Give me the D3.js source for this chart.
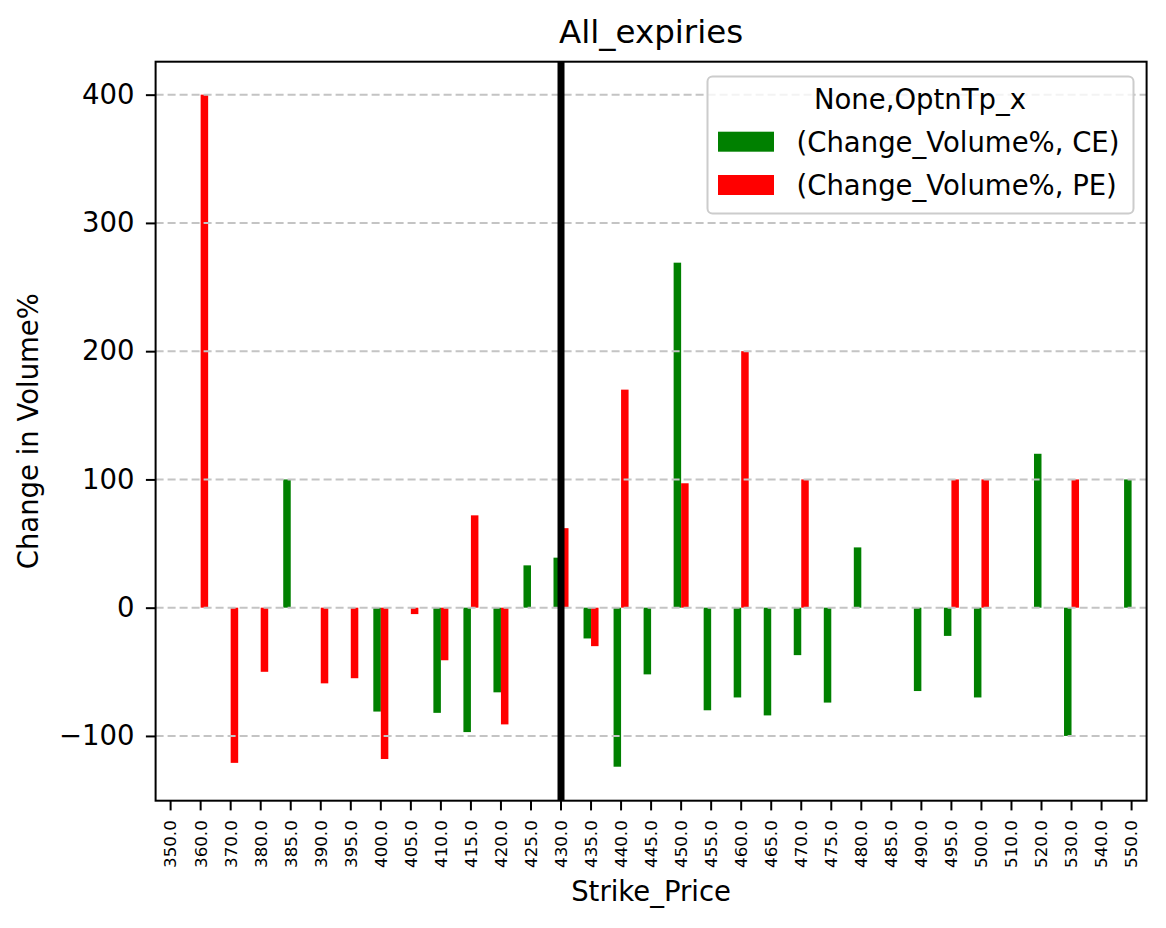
<!DOCTYPE html>
<html>
<head>
<meta charset="utf-8">
<script src="https://cdn.jsdelivr.net/npm/d3@7"></script>
<style>
  body { margin: 0; background: #fff; }
  svg { display: block; font-family: "DejaVu Sans", sans-serif; }
</style>
</head>
<body>
<script>
// strikes on the x axis
const strikes = ["350.0", "360.0", "370.0", "380.0", "385.0", "390.0", "395.0", "400.0", "405.0",
  "410.0", "415.0", "420.0", "425.0", "430.0", "435.0", "440.0", "445.0", "450.0", "455.0",
  "460.0", "465.0", "470.0", "475.0", "480.0", "485.0", "490.0", "495.0", "500.0", "510.0",
  "520.0", "530.0", "540.0", "550.0"];

// Change_Volume% per option type (null = no bar)
const ceValues = [null, null, null, null, 100, null, null, -81, null, -82, -97, -66, 33, 39, -24,
  -124, -52, 269, -80, -70, -84, -37, -74, 47, null, -65, -22, -70, null, 120, -100, null, 100];
const peValues = [null, 400, -121, -50, null, -59, -55, -118, -5, -41, 72, -91, null, 62, -30,
  170, null, 97, null, 200, null, 100, null, null, null, null, 100, 100, null, null, 100, null, null];

const seriesNames = ["CE", "PE"];
const seriesLabels = ["(Change_Volume%, CE)", "(Change_Volume%, PE)"];
const seriesColors = ["#008000", "#ff0000"];
const yTicks = [-100, 0, 100, 200, 300, 400];
const markStrike = "430.0";

const width = 1166, height = 928;
const plotLeft = 155.6, plotRight = 1146.6, plotTop = 61.7, plotBottom = 800.7;

const svg = d3.select("body").append("svg")
    .attr("width", width)
    .attr("height", height);

const x = d3.scaleBand().domain(strikes).range([plotLeft, plotRight]).padding(0);
const bw = x.bandwidth();
const xs = d3.scaleBand().domain(seriesNames).range([-bw / 4, bw / 4]).padding(0);
const y = d3.scaleLinear().domain([-150.5, 425.7]).range([plotBottom, plotTop]);

const rows = strikes.map((s, i) => ({ strike: s, CE: ceValues[i], PE: peValues[i] }));

// bars
seriesNames.forEach((name, k) => {
  svg.append("g")
      .attr("fill", seriesColors[k])
    .selectAll("rect")
    .data(rows.filter(d => d[name] != null))
    .join("rect")
      .attr("x", d => x(d.strike) + bw / 2 + xs(name))
      .attr("width", xs.bandwidth())
      .attr("y", d => y(Math.max(0, d[name])))
      .attr("height", d => Math.abs(y(d[name]) - y(0)));
});

// dashed horizontal grid
svg.append("g")
  .selectAll("line")
  .data(yTicks)
  .join("line")
    .attr("x1", plotLeft).attr("x2", plotRight)
    .attr("y1", d => y(d)).attr("y2", d => y(d))
    .attr("stroke", "#c4c4c4")
    .attr("stroke-width", 2)
    .attr("stroke-dasharray", "8,4");

// vertical marker at 430
svg.append("line")
    .attr("x1", x(markStrike) + bw / 2).attr("x2", x(markStrike) + bw / 2)
    .attr("y1", plotTop).attr("y2", plotBottom)
    .attr("stroke", "#000")
    .attr("stroke-width", 7);

// axes
const yAxis = svg.append("g")
    .attr("transform", `translate(${plotLeft},0)`)
    .call(d3.axisLeft(y).tickValues(yTicks).tickSize(9.7).tickPadding(11.3));
yAxis.select(".domain").remove();
yAxis.selectAll(".tick line").attr("stroke-width", 2);
yAxis.selectAll(".tick text").attr("font-size", 27.5).attr("fill", "#000")
    .attr("font-family", "DejaVu Sans");

const xAxis = svg.append("g")
    .attr("transform", `translate(0,${plotBottom})`)
    .call(d3.axisBottom(x).tickSize(9.7).tickSizeOuter(0));
xAxis.select(".domain").remove();
xAxis.selectAll(".tick line").attr("stroke-width", 2);
xAxis.selectAll(".tick text")
    .attr("font-size", 16.7)
    .attr("font-family", "DejaVu Sans")
    .attr("fill", "#000")
    .attr("transform", "rotate(-90)")
    .attr("text-anchor", "end")
    .attr("dy", "0.35em")
    .attr("x", -19.5)
    .attr("y", 0);

// frame
svg.append("rect")
    .attr("x", plotLeft).attr("y", plotTop)
    .attr("width", plotRight - plotLeft).attr("height", plotBottom - plotTop)
    .attr("fill", "none")
    .attr("stroke", "#000")
    .attr("stroke-width", 2);

// title and axis labels
svg.append("text")
    .attr("x", (plotLeft + plotRight) / 2).attr("y", 43)
    .attr("text-anchor", "middle")
    .attr("font-size", 32.5)
    .text("All_expiries");

svg.append("text")
    .attr("x", (plotLeft + plotRight) / 2).attr("y", 901)
    .attr("text-anchor", "middle")
    .attr("font-size", 27.5)
    .text("Strike_Price");

svg.append("text")
    .attr("transform", `translate(38,${(plotTop + plotBottom) / 2}) rotate(-90)`)
    .attr("text-anchor", "middle")
    .attr("font-size", 27.5)
    .text("Change in Volume%");

// legend
const legend = svg.append("g");
legend.append("rect")
    .attr("x", 707.5).attr("y", 76.5)
    .attr("width", 426).attr("height", 137)
    .attr("rx", 5)
    .attr("fill", "#fff")
    .attr("fill-opacity", 0.8)
    .attr("stroke", "#cccccc")
    .attr("stroke-width", 2);
legend.append("text")
    .attr("x", 920).attr("y", 109)
    .attr("text-anchor", "middle")
    .attr("font-size", 27.5)
    .text("None,OptnTp_x");
seriesLabels.forEach((label, k) => {
  const yy = 131.7 + k * 43.3;
  legend.append("rect")
      .attr("x", 718).attr("y", yy)
      .attr("width", 56).attr("height", 20)
      .attr("fill", seriesColors[k]);
  legend.append("text")
      .attr("x", 796.5).attr("y", yy + 20)
      .attr("font-size", 27.5)
      .text(label);
});
</script>
</body>
</html>
